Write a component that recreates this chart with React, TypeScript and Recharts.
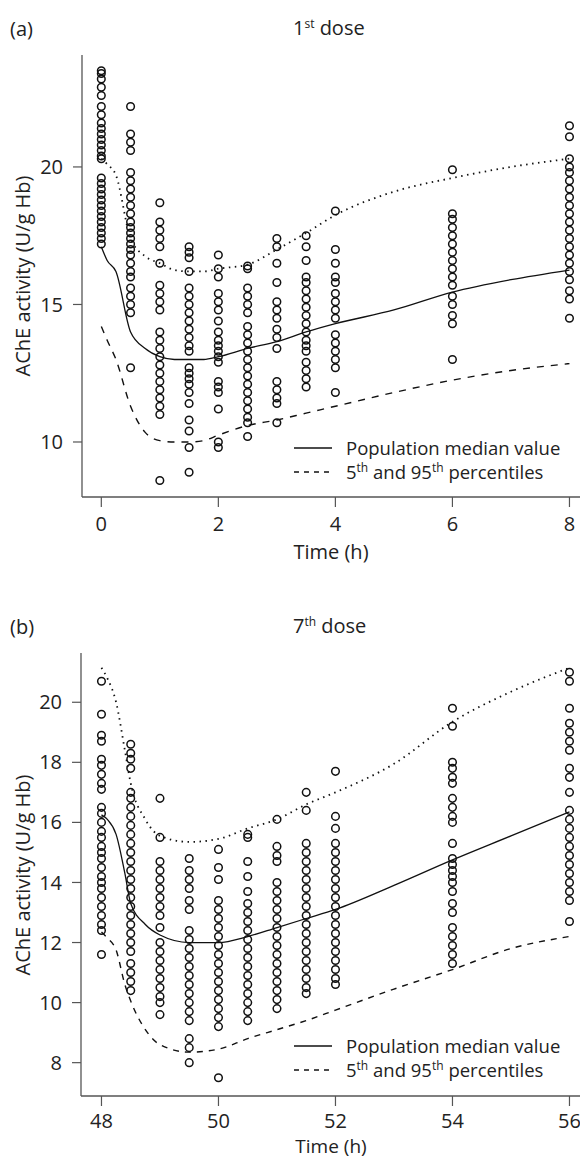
import React from 'react'
import { ComposedChart, Scatter, Line, XAxis, YAxis } from 'recharts'

// (a) 1st dose — observed AChE activity per sampling time
const dose1Times = [0, 0.5, 1, 1.5, 2, 2.5, 3, 3.5, 4, 6, 8]
const dose1Obs = [
  [23.5, 23.4, 23.2, 22.9, 22.6, 22.2, 21.9, 21.6, 21.4, 21.2, 21.0, 20.8, 20.6, 20.4, 20.3, 19.6, 19.4, 19.2, 19.0, 18.8, 18.6, 18.4, 18.2, 18.0, 17.8, 17.6, 17.4, 17.2],
  [22.2, 21.2, 20.9, 20.6, 19.8, 19.5, 19.2, 18.9, 18.6, 18.3, 18.0, 17.8, 17.6, 17.4, 17.2, 17.0, 16.8, 16.5, 16.2, 16.0, 15.6, 15.3, 15.0, 14.7, 12.7],
  [18.7, 18.0, 17.7, 17.4, 17.1, 16.5, 15.7, 15.4, 15.1, 14.8, 14.0, 13.7, 13.4, 13.1, 12.8, 12.5, 12.2, 11.9, 11.6, 11.3, 11.0, 8.6],
  [17.1, 16.9, 16.7, 16.2, 15.6, 15.3, 15.0, 14.7, 14.4, 14.1, 13.8, 13.5, 13.3, 12.7, 12.5, 12.3, 12.1, 11.8, 11.4, 10.8, 10.4, 9.8, 8.9],
  [16.8, 16.3, 16.0, 15.4, 15.1, 14.8, 14.4, 14.0, 13.7, 13.5, 13.3, 13.1, 12.9, 12.2, 12.0, 11.8, 11.2, 10.0, 9.8],
  [16.4, 16.3, 15.6, 15.3, 15.0, 14.7, 14.2, 13.9, 13.6, 13.3, 13.0, 12.7, 12.4, 12.1, 11.8, 11.5, 11.2, 10.9, 10.7, 10.2],
  [17.4, 17.1, 16.5, 15.8, 15.1, 14.8, 14.5, 14.1, 13.8, 13.4, 12.2, 11.9, 11.6, 11.4, 10.7],
  [17.5, 17.1, 16.6, 16.0, 15.8, 15.5, 15.2, 14.9, 14.6, 14.3, 14.0, 13.7, 13.5, 13.3, 12.9, 12.6, 12.3, 12.0],
  [18.4, 17.0, 16.5, 16.0, 15.8, 15.4, 15.1, 14.8, 14.5, 13.9, 13.6, 13.3, 13.0, 12.7, 11.8],
  [19.9, 18.3, 18.1, 17.8, 17.5, 17.2, 16.9, 16.6, 16.3, 16.0, 15.7, 15.3, 15.0, 14.6, 14.3, 13.0],
  [21.5, 21.1, 20.3, 20.0, 19.8, 19.5, 19.2, 18.9, 18.6, 18.3, 18.0, 17.7, 17.4, 17.1, 16.8, 16.5, 16.2, 15.9, 15.5, 15.2, 14.5],
]
const dose1CurveTimes = [0, 0.1, 0.25, 0.5, 0.75, 1, 1.25, 1.5, 1.75, 2, 2.5, 3, 3.5, 4, 5, 6, 7, 8]
const dose1Median = [17.1, 16.6, 16.2, 14.0, 13.4, 13.1, 13.0, 13.0, 13.0, 13.1, 13.4, 13.65, 14.0, 14.3, 14.8, 15.45, 15.9, 16.25]
const dose1P95 = [20.3, 20.1, 19.7, 17.4, 16.75, 16.5, 16.25, 16.2, 16.2, 16.3, 16.45, 17.0, 17.6, 18.25, 19.1, 19.6, 20.0, 20.3]
const dose1P5 = [14.2, 13.7, 13.0, 11.3, 10.35, 10.05, 10.0, 10.0, 10.05, 10.25, 10.6, 10.8, 11.05, 11.3, 11.8, 12.25, 12.6, 12.85]
const dose1XTicks = [0, 2, 4, 6, 8]
const dose1YTicks = [10, 15, 20]

// (b) 7th dose
const dose7Times = [48, 48.5, 49, 49.5, 50, 50.5, 51, 51.5, 52, 54, 56]
const dose7Obs = [
  [20.7, 19.6, 18.9, 18.7, 18.1, 17.9, 17.6, 17.3, 17.1, 16.5, 16.3, 16.0, 15.7, 15.5, 15.2, 15.0, 14.8, 14.5, 14.2, 14.0, 13.8, 13.5, 13.2, 12.9, 12.6, 12.4, 11.6],
  [18.6, 18.3, 18.1, 17.8, 17.0, 16.8, 16.5, 16.2, 15.9, 15.6, 15.3, 15.0, 14.7, 14.4, 14.1, 13.8, 13.5, 13.2, 12.9, 12.6, 12.3, 12.0, 11.7, 11.3, 11.0, 10.7, 10.4],
  [16.8, 15.5, 14.7, 14.4, 14.1, 13.8, 13.5, 13.2, 12.9, 12.5, 12.0, 11.7, 11.4, 11.1, 10.8, 10.5, 10.2, 10.0, 9.6],
  [14.8, 14.4, 14.1, 13.8, 13.4, 13.1, 12.4, 12.1, 11.8, 11.5, 11.2, 10.9, 10.6, 10.3, 10.0, 9.7, 9.4, 8.8, 8.5, 8.0],
  [15.1, 14.5, 14.1, 13.4, 13.1, 12.8, 12.5, 12.2, 11.9, 11.6, 11.3, 11.0, 10.7, 10.4, 10.1, 9.8, 9.5, 9.2, 7.5],
  [15.6, 15.5, 14.7, 14.2, 13.7, 13.3, 13.0, 12.7, 12.4, 12.1, 11.8, 11.5, 11.2, 10.9, 10.6, 10.3, 10.0, 9.7, 9.4],
  [16.1, 15.2, 14.9, 14.7, 14.0, 13.7, 13.4, 13.1, 12.8, 12.5, 12.2, 11.9, 11.6, 11.3, 11.0, 10.7, 10.4, 10.1, 9.8],
  [17.0, 16.4, 15.3, 15.0, 14.7, 14.4, 14.1, 13.8, 13.5, 13.2, 12.9, 12.6, 12.3, 12.0, 11.7, 11.4, 11.1, 10.8, 10.5, 10.3],
  [17.7, 16.2, 15.8, 15.3, 15.0, 14.7, 14.4, 14.1, 13.8, 13.5, 13.2, 12.9, 12.6, 12.3, 12.0, 11.7, 11.4, 11.1, 10.8, 10.6],
  [19.8, 19.2, 18.0, 17.8, 17.5, 17.3, 16.8, 16.5, 16.2, 16.0, 15.3, 14.8, 14.6, 14.4, 14.2, 14.0, 13.7, 13.3, 13.0, 12.5, 12.2, 11.9, 11.6, 11.3],
  [21.0, 20.7, 19.8, 19.3, 19.0, 18.7, 18.4, 17.8, 17.5, 17.0, 16.4, 16.1, 15.8, 15.5, 15.2, 14.9, 14.6, 14.3, 14.0, 13.7, 13.4, 12.7],
]
const dose7CurveTimes = [48, 48.1, 48.25, 48.4, 48.5, 48.75, 49, 49.5, 50, 50.5, 51, 51.5, 52, 53, 54, 55, 56]
const dose7Median = [16.25, 16.1, 15.6, 14.3, 13.3, 12.6, 12.25, 12.0, 12.0, 12.2, 12.5, 12.8, 13.1, 13.9, 14.75, 15.55, 16.35]
const dose7P95 = [21.15, 20.8, 20.0, 18.4, 17.3, 16.1, 15.55, 15.35, 15.45, 15.8, 16.1, 16.6, 17.0, 17.95, 19.35, 20.35, 21.15]
const dose7P5 = [12.35, 12.15, 11.75, 10.6, 10.05, 9.1, 8.6, 8.35, 8.45, 8.8, 9.1, 9.4, 9.75, 10.45, 11.1, 11.8, 12.2]
const dose7XTicks = [48, 50, 52, 54, 56]
const dose7YTicks = [8, 10, 12, 14, 16, 18, 20]

const ink = '#111'
const axisGrey = '#555'

const toObs = (times: number[], obs: number[][]) =>
  times.flatMap((t, i) => obs[i].map((v) => ({ x: t, y: v })))
const toCurve = (times: number[], vals: number[]) => times.map((t, i) => ({ x: t, y: vals[i] }))

const OpenCircle = (props: any) => {
  if (props.cx == null || props.cy == null) return null
  return <circle cx={props.cx} cy={props.cy} r={3.8} fill="none" stroke={ink} strokeWidth={1.5} />
}

const Sup = ({ children }: { children: React.ReactNode }) => (
  <span style={{ fontSize: 12, position: 'relative', top: -7, lineHeight: 0 }}>{children}</span>
)

interface PanelProps {
  top: number
  height: number
  marginTop: number
  xAxisHeight: number
  yAxisWidth: number
  tickMargin: number
  xDomain: [number, number]
  yDomain: [number, number]
  xTicks: number[]
  yTicks: number[]
  times: number[]
  obs: number[][]
  curveTimes: number[]
  median: number[]
  p95: number[]
  p5: number[]
  letter: string
  ordinal: string
  suffix: string
  legendTop: number
  dashP5: string
  xTitleOffset: number
  xTitleSize: number
}

function Panel(p: PanelProps) {
  const plotTop = p.marginTop
  const plotBottom = p.height - p.xAxisHeight
  const plotMid = (plotTop + plotBottom) / 2
  return (
    <div style={{ position: 'absolute', left: 0, top: p.top, width: 580, height: p.height }}>
      <ComposedChart
        width={580}
        height={p.height}
        margin={{ top: p.marginTop, right: 0, bottom: 0, left: 0 }}
      >
        <XAxis
          type="number"
          dataKey="x"
          domain={p.xDomain}
          ticks={p.xTicks}
          allowDataOverflow
          height={p.xAxisHeight}
          tickSize={10}
          tickMargin={p.tickMargin}
          axisLine={{ stroke: axisGrey, strokeWidth: 1.3 }}
          tickLine={{ stroke: axisGrey, strokeWidth: 1.2 }}
          tick={{ fontSize: 20, fill: '#222' }}
        />
        <YAxis
          type="number"
          dataKey="y"
          domain={p.yDomain}
          ticks={p.yTicks}
          allowDataOverflow
          width={p.yAxisWidth}
          tickSize={9}
          tickMargin={10}
          axisLine={{ stroke: axisGrey, strokeWidth: 1.3 }}
          tickLine={{ stroke: axisGrey, strokeWidth: 1.2 }}
          tick={{ fontSize: 20, fill: '#222' }}
        />
        <Scatter data={toObs(p.times, p.obs)} shape={OpenCircle} isAnimationActive={false} />
        <Line data={toCurve(p.curveTimes, p.median)} dataKey="y" type="monotone" stroke={ink} strokeWidth={1.3} dot={false} isAnimationActive={false} />
        <Line data={toCurve(p.curveTimes, p.p95)} dataKey="y" type="monotone" stroke={ink} strokeWidth={1.8} strokeDasharray="1.5 4.5" dot={false} isAnimationActive={false} />
        <Line data={toCurve(p.curveTimes, p.p5)} dataKey="y" type="monotone" stroke={ink} strokeWidth={1.4} strokeDasharray={p.dashP5} dot={false} isAnimationActive={false} />
      </ComposedChart>

      {/* panel letter and title */}
      <div style={{ position: 'absolute', left: 10, top: p.marginTop - 37, fontSize: 20, lineHeight: '22px', color: '#222' }}>
        {p.letter}
      </div>
      <div style={{ position: 'absolute', left: 293, top: p.marginTop - 38, fontSize: 20, lineHeight: '22px', color: '#222', whiteSpace: 'nowrap' }}>
        {p.ordinal}
        <Sup>{p.suffix}</Sup> dose
      </div>

      {/* axis titles */}
      <div
        style={{
          position: 'absolute', left: 22, top: plotMid, fontSize: 20, color: '#222', whiteSpace: 'nowrap',
          transform: 'translate(-50%, -50%) rotate(-90deg)',
        }}
      >
        AChE activity (U/g Hb)
      </div>
      <div
        style={{
          position: 'absolute', left: 331, top: plotBottom + p.xTitleOffset, fontSize: p.xTitleSize, color: '#222', whiteSpace: 'nowrap',
          transform: 'translate(-50%, -50%)', lineHeight: '16px',
        }}
      >
        Time (h)
      </div>

      {/* legend */}
      <div style={{ position: 'absolute', left: 293, top: p.legendTop, fontSize: 18.5, color: '#222', lineHeight: '24px' }}>
        <div style={{ display: 'flex', alignItems: 'center', height: 24 }}>
          <svg width={40} height={10} style={{ marginRight: 13 }}>
            <line x1={1} y1={5} x2={39} y2={5} stroke={ink} strokeWidth={1.3} />
          </svg>
          <span>Population median value</span>
        </div>
        <div style={{ display: 'flex', alignItems: 'center', height: 24 }}>
          <svg width={40} height={10} style={{ marginRight: 13 }}>
            <line x1={1} y1={5} x2={39} y2={5} stroke={ink} strokeWidth={1.3} strokeDasharray="5 5" />
          </svg>
          <span>
            5<Sup>th</Sup> and 95<Sup>th</Sup> percentiles
          </span>
        </div>
      </div>
    </div>
  )
}

export default function App() {
  return (
    <div
      style={{
        position: 'absolute', left: 0, top: 0, width: 580, height: 1159, background: '#fff',
        fontFamily: "'Open Sans', 'Noto Sans', sans-serif", overflow: 'hidden',
      }}
    >
      <Panel
        top={0}
        height={580}
        marginTop={55}
        xAxisHeight={83}
        yAxisWidth={82}
        tickMargin={10}
        xDomain={[-0.33, 8.18]}
        yDomain={[8, 24.07]}
        xTicks={dose1XTicks}
        yTicks={dose1YTicks}
        times={dose1Times}
        obs={dose1Obs}
        curveTimes={dose1CurveTimes}
        median={dose1Median}
        p95={dose1P95}
        p5={dose1P5}
        letter="(a)"
        ordinal="1"
        suffix="st"
        legendTop={436}
        dashP5="7 7"
        xTitleOffset={55}
        xTitleSize={20}
      />
      <Panel
        top={580}
        height={579}
        marginTop={73}
        xAxisHeight={63}
        yAxisWidth={81}
        tickMargin={8}
        xDomain={[47.65, 56.18]}
        yDomain={[6.89, 21.64]}
        xTicks={dose7XTicks}
        yTicks={dose7YTicks}
        times={dose7Times}
        obs={dose7Obs}
        curveTimes={dose7CurveTimes}
        median={dose7Median}
        p95={dose7P95}
        p5={dose7P5}
        letter="(b)"
        ordinal="7"
        suffix="th"
        legendTop={454}
        dashP5="6 6"
        xTitleOffset={50}
        xTitleSize={19}
      />
    </div>
  )
}
